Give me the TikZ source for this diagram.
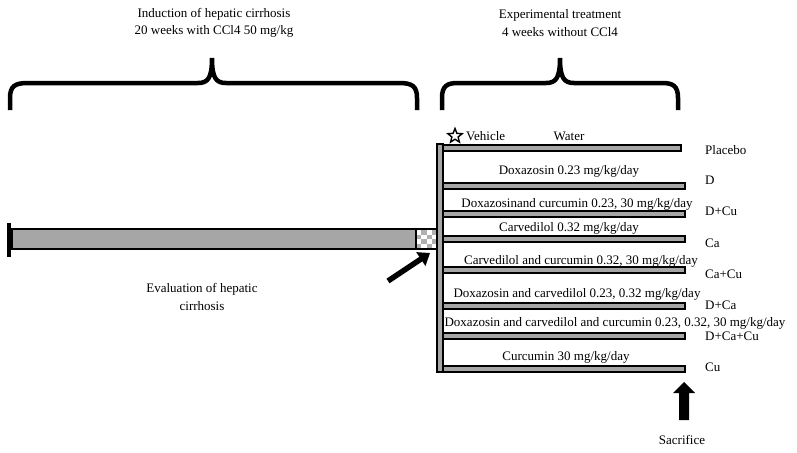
\documentclass[tikz,border=0pt]{standalone}
\usepackage{fontspec}
\setmainfont{Liberation Serif}
\usetikzlibrary{shapes.geometric,arrows.meta}
\definecolor{bargray}{HTML}{A6A6A6}
\definecolor{chkgray}{HTML}{B0B0B0}
\tikzset{
  bar/.style={draw=black,fill=bargray,line width=1.1pt},
  lbl/.style={font=\fontsize{13}{17.5}\selectfont, inner sep=0pt},
  brace/.style={line width=4.5pt},
  bigarrow/.style={line width=5.5pt,-{Triangle[length=11pt,width=16pt]}}
}
\begin{document}
\begin{tikzpicture}[x=1pt,y=-1pt]
\useasboundingbox (0,0) rectangle (797,452);
% headings
\node[lbl,align=center] (t1) at (214,23) {Induction of hepatic cirrhosis\\20 weeks with CCl4 50 mg/kg};
\node[lbl,align=center] (t2) at (560,23) {Experimental treatment\\4 weeks without CCl4};
% braces
\draw[brace] (10,110) -- (10,98) .. controls (10,86) and (15,83) .. (28,83) -- (198,83)
  .. controls (208,83) and (212,78) .. (212,58)
  .. controls (212,78) and (216,83) .. (226,83) -- (399,83)
  .. controls (412,83) and (417,86) .. (417,98) -- (417,110);
\draw[brace] (442,110) -- (442,98) .. controls (442,86) and (447,83) .. (458,83) -- (546,83)
  .. controls (556,83) and (560,78) .. (560,58)
  .. controls (560,78) and (564,83) .. (574,83) -- (662,83)
  .. controls (673,83) and (678,86) .. (678,98) -- (678,110);
% induction bar
\draw[line width=4pt] (9,223) -- (9,257);
\draw[bar] (12,229) rectangle (416,249);
\fill[white] (416,230) rectangle (437,248);
\foreach \i in {0,...,3}{\foreach \j in {0,...,3}{
  \pgfmathparse{int(mod(\i+\j,2))}
  \ifnum\pgfmathresult=1 \fill[chkgray] ({416+\i*5.25},{230+\j*4.5}) rectangle ({416+(\i+1)*5.25},{230+(\j+1)*4.5});\fi}}
\draw[line width=1.1pt] (416,229) rectangle (437,249);
% vertical bar
\draw[bar] (437,144) rectangle (443,372);
% treatment bars
\draw[bar] (443,145) rectangle (681,151);
\foreach \y in {183,211,236,267,303,333,366}{\draw[bar] (443,\y) rectangle (685,\y+6);}
% labels above bars
\node[draw,star,star points=5,star point ratio=2.3,minimum size=15pt,inner sep=0pt,line width=1.4pt] (star) at (455,136) {};
\node[lbl,anchor=west] (veh) at (466,136) {Vehicle};
\node[lbl] (w) at (569,136) {Water};
\node[lbl] (b2) at (569,171) {Doxazosin 0.23 mg/kg/day};
\node[lbl] (b3) at (577,204) {Doxazosinand curcumin 0.23, 30 mg/kg/day};
\node[lbl] (b4) at (569,228) {Carvedilol 0.32 mg/kg/day};
\node[lbl] (b5) at (581,261) {Carvedilol and curcumin 0.32, 30 mg/kg/day};
\node[lbl] (b6) at (577,294) {Doxazosin and carvedilol 0.23, 0.32 mg/kg/day};
\node[lbl] (b7) at (615,323) {Doxazosin and carvedilol and curcumin 0.23, 0.32, 30 mg/kg/day};
\node[lbl] (b8) at (566,357) {Curcumin 30 mg/kg/day};
% group labels
\foreach \n/\y/\t in {g1/150/Placebo,g2/180/D,g3/211/D+Cu,g4/243/Ca,g5/274/Ca+Cu,g6/305/D+Ca,g7/336/D+Ca+Cu,g8/367/Cu}{
  \node[lbl,anchor=west] (\n) at (705,\y) {\t};}
% evaluation
\node[lbl,align=center] (ev) at (202,297) {Evaluation of hepatic\\cirrhosis};
\coordinate (a1) at (388,281);
\coordinate (a2) at (430,253);
\draw[bigarrow] (a1) -- (a2);
% sacrifice
\fill (679,420) -- (679,393) -- (673,393) -- (684,382) -- (695,393) -- (689,393) -- (689,420) -- cycle;
\node[lbl] (sac) at (682,440) {Sacrifice};
\end{tikzpicture}
\end{document}
